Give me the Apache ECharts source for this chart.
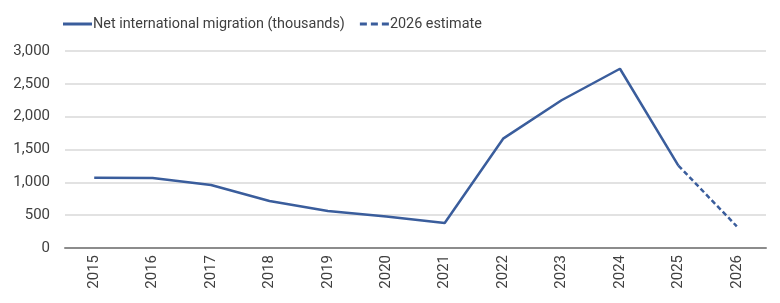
<!DOCTYPE html>
<html>
<head>
<meta charset="utf-8">
<script src="https://cdn.jsdelivr.net/npm/echarts@6/dist/echarts.min.js"></script>
<style>
  html, body { margin: 0; padding: 0; background: #fff; }
  #chart { width: 780px; height: 303px; }
</style>
</head>
<body>
<div id="chart"></div>
<script>
// 年份
var years = ['2015', '2016', '2017', '2018', '2019', '2020', '2021', '2022', '2023', '2024', '2025', '2026'];
// 净国际移民（千人）
var migration = [1070, 1065, 960, 715, 565, 480, 380, 1665, 2250, 2730, 1255, null];
// 2026 预估（从 2025 接上）
var estimate = [null, null, null, null, null, null, null, null, null, null, 1255, 330];

var textColor = '#404040';
var lineColor = '#3a5d9c';

var myChart = echarts.init(document.getElementById('chart'));
myChart.setOption({
  animation: false,
  legend: {
    top: 12,
    left: 58,
    itemWidth: 29,
    itemHeight: 3,
    itemGap: 15,
    textStyle: { color: textColor, fontSize: 14.4, fontFamily: 'Roboto', padding: [0, 0, 0, -4] },
    data: [
      { name: 'Net international migration (thousands)', icon: 'rect' },
      { name: '2026 estimate', icon: 'path://M0,0H7V3H0Z M11,0H18V3H11Z M22,0H29V3H22Z' }
    ]
  },
  grid: { left: 65, right: 14, top: 51, bottom: 55 },
  xAxis: {
    type: 'category',
    data: years,
    boundaryGap: true,
    axisLine: { lineStyle: { color: '#8c8c8c', width: 2 } },
    axisTick: { show: false },
    axisLabel: {
      rotate: 90,
      margin: 7,
      color: textColor,
      fontSize: 15,
      fontFamily: 'Roboto'
    }
  },
  yAxis: {
    type: 'value',
    min: 0,
    max: 3000,
    interval: 500,
    axisLine: { show: false },
    axisTick: { show: false },
    splitLine: { lineStyle: { color: '#d9d9d9', width: 1.5 } },
    axisLabel: {
      margin: 15,
      color: textColor,
      fontSize: 15,
      fontFamily: 'Roboto',
      formatter: function (v) { return v.toLocaleString('en-US'); }
    }
  },
  series: [
    {
      name: 'Net international migration (thousands)',
      type: 'line',
      data: migration,
      symbol: 'none',
      lineStyle: { color: lineColor, width: 2.5 },
      itemStyle: { color: lineColor }
    },
    {
      name: '2026 estimate',
      type: 'line',
      data: estimate,
      symbol: 'none',
      lineStyle: { color: lineColor, width: 2.5, type: [5, 3] },
      itemStyle: { color: lineColor }
    }
  ]
});
</script>
</body>
</html>
